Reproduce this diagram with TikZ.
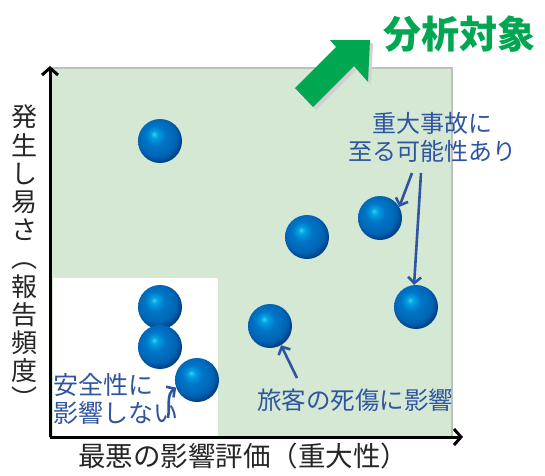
\documentclass[tikz,border=0pt]{standalone}
\usepackage{fontspec}
\newfontfamily\cjk{Noto Sans CJK JP}
\usetikzlibrary{arrows.meta,shadings}
\definecolor{bgreen}{RGB}{213,232,212}
\definecolor{arrgreen}{RGB}{0,166,80}
\definecolor{lblue}{RGB}{47,85,160}
\definecolor{bc1}{RGB}{60,205,245}
\definecolor{bc2}{RGB}{0,160,225}
\definecolor{bc3}{RGB}{0,118,200}
\definecolor{bc4}{RGB}{0,100,180}
\definecolor{bc5}{RGB}{0,65,135}
\definecolor{bc6}{RGB}{15,35,75}
\pgfdeclareradialshading{blueball}{\pgfpoint{-7bp}{8bp}}{color(0bp)=(bc1); color(4bp)=(bc2); color(11bp)=(bc3); color(22bp)=(bc4); color(28bp)=(bc5); color(34bp)=(bc6); color(50bp)=(bc6)}
\tikzset{
  ball/.style={circle,minimum size=44pt,inner sep=0pt,shading=blueball},
  axis/.style={line width=3pt,-{Straight Barb[length=7pt,width=16pt,line width=3pt]}},
  pointer/.style={lblue,line width=2.6pt,-{Straight Barb[length=6pt,width=13pt,line width=2.6pt]}},
  lbl/.style={lblue,font=\cjk\fontsize{24}{28}\selectfont,inner sep=0pt},
  axlbl/.style={black!85,inner sep=0pt,align=center},
  titlefont/.style={font=\cjk\bfseries\fontsize{38}{38}\selectfont,inner sep=0pt}
}
\begin{document}
\begin{tikzpicture}[x=1pt,y=-1pt]
\useasboundingbox (0,0) rectangle (545,475);
% background areas
\fill[bgreen] (50,68) rectangle (452,437);
\draw[black!25,line width=1.5pt] (50,68) -- (452,68) -- (452,437);
\fill[white] (53,278) rectangle (218,436);
% axes
\coordinate (org) at (50,437);
\coordinate (ytop) at (50,66);
\coordinate (xend) at (463,437);
\draw[axis] (org) -- (ytop);
\draw[axis] (org) -- (xend);
% axis labels
\node[axlbl,font=\cjk\fontsize{26}{28.2}\selectfont] (ylab) at (25,257) {発\\生\\し\\易\\さ\\︵\\報\\告\\頻\\度\\︶};
\node[axlbl,font=\cjk\fontsize{27.5}{28}\selectfont] (xlab) at (243,456) {最悪の影響評価（重大性）};
% title arrow
\fill[black!18] (298,91) -- (339,50) -- (333,43) -- (373,43) -- (371,85) -- (357,69) -- (316,110) -- cycle;
\fill[arrgreen] (295,88) -- (336,47) -- (330,40) -- (370,40) -- (368,82) -- (354,66) -- (313,107) -- cycle;
\node[titlefont,text=arrgreen] (title) at (459,34) {分析対象};
% balls
\node[ball] (b1) at (160,141) {};
\node[ball] (b2) at (307,237) {};
\node[ball] (b3) at (380,218) {};
\node[ball] (b4) at (416,307) {};
\node[ball] (b5) at (270,326) {};
\node[ball] (b6) at (160,307) {};
\node[ball] (b7) at (160,347) {};
\node[ball] (b8) at (197,380) {};
% labels
\node[lbl,align=center] (serious) at (432,137) {重大事故に\\至る可能性あり};
\node[lbl,font=\cjk\fontsize{24.5}{28}\selectfont] (passenger) at (355,400) {旅客の死傷に影響};
\node[lbl,align=left,anchor=west,font=\cjk\fontsize{25}{28}\selectfont] (safe) at (53,399) {安全性に\\影響しない};
% pointers
\coordinate (s1) at (412,173);
\coordinate (s2) at (421,173);
\draw[pointer] (s1) -- (b3.30);
\draw[pointer] (s2) -- (b4.95);
\coordinate (p1) at (297,378);
\draw[pointer] (p1) -- (b5.-60);
\coordinate (q1) at (168,418);
\draw[pointer] (q1) to[out=80,in=215] (b8.200);
\end{tikzpicture}
\end{document}
